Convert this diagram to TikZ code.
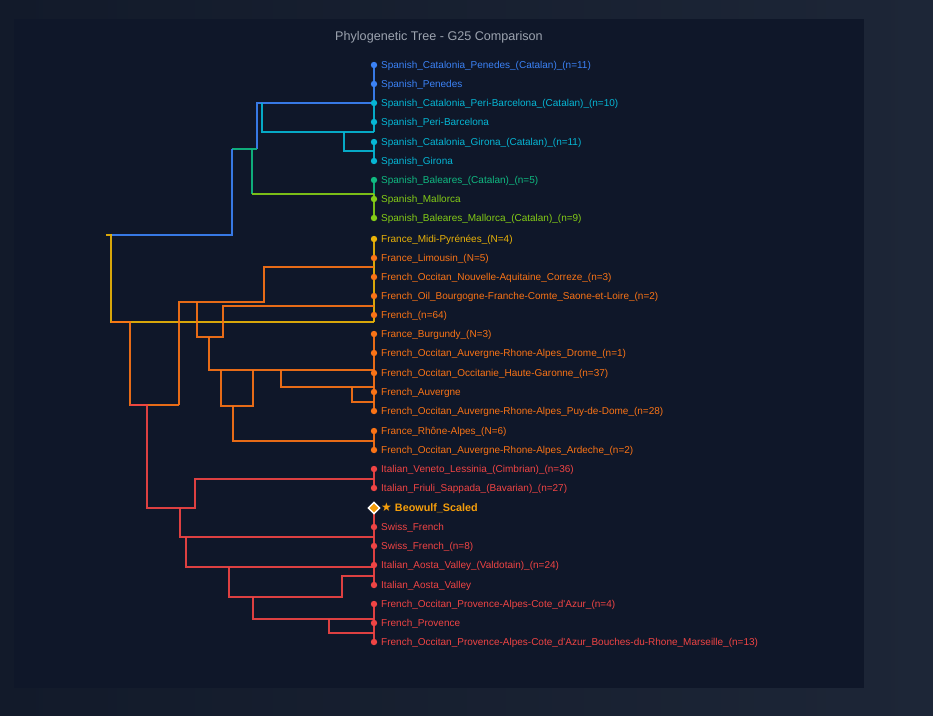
\documentclass[tikz,border=0pt]{standalone}
\usepackage{fontspec}
\setmainfont{Liberation Sans}[Ligatures=TeXOff]
\newfontfamily\djv{DejaVu Sans}
\usetikzlibrary{shapes.geometric}
\definecolor{cblue}{HTML}{3B82F6}
\definecolor{ccyan}{HTML}{06B6D4}
\definecolor{cteal}{HTML}{10B981}
\definecolor{clime}{HTML}{84CC16}
\definecolor{cyel}{HTML}{EAB308}
\definecolor{corg}{HTML}{F97316}
\definecolor{cred}{HTML}{EF4444}
\definecolor{camber}{HTML}{F59E0B}
\definecolor{panelbg}{HTML}{0F1729}
\definecolor{bgleft}{HTML}{121A2A}
\definecolor{bgright}{HTML}{1D2637}
\definecolor{titlegray}{HTML}{9CA3AF}
\begin{document}
\begin{tikzpicture}[x=1pt,y=-1pt,
  br/.style={line width=1.8pt, opacity=0.92},
  dot/.style={circle, inner sep=0pt, minimum size=6.4pt, fill=#1},
  lab/.style={anchor=west, inner sep=0pt, text=#1, font=\fontsize{10}{12}\selectfont, text height=7.2pt, text depth=0pt}]
\fill[left color=bgleft, right color=bgright] (0,0) rectangle (933,715);
\useasboundingbox (0,0) rectangle (933,715);
\fill[panelbg] (14,19) rectangle (864,688);
\node[text=titlegray, font=\fontsize{12.6}{15}\selectfont, inner sep=0pt] (title) at (439,37) {Phylogenetic Tree - G25 Comparison};

% leaf column segments
\draw[br,cblue] (374,65) -- (374,103);
\draw[br,ccyan] (374,103) -- (374,132);
\draw[br,ccyan] (374,142) -- (374,161);
\draw[br,cteal] (374,180) -- (374,194);
\draw[br,clime] (374,194) -- (374,218);
\draw[br,cyel] (374,239) -- (374,322);
\draw[br,corg] (374,334) -- (374,411);
\draw[br,corg] (374,431) -- (374,450);
\draw[br,cred] (374,469) -- (374,488);
\draw[br,cred] (374,508) -- (374,585);
\draw[br,cred] (374,604) -- (374,642);

% Spanish clade
\draw[br,cblue] (374,103) -- (257,103) -- (257,149);
\draw[br,ccyan] (262,103) -- (262,132) -- (374,132);
\draw[br,ccyan] (344,132) -- (344,151) -- (374,151);
\draw[br,cteal] (257,149) -- (232,149);
\draw[br,cteal] (252,149) -- (252,194);
\draw[br,clime] (252,194) -- (374,194);
\draw[br,cblue] (232,149) -- (232,235) -- (111,235);
\draw[br,cyel] (106,235) -- (111,235) -- (111,322) -- (374,322);

% French clade
\draw[br,corg] (111,322) -- (130,322) -- (130,405) -- (179,405);
\draw[br,corg] (179,405) -- (179,302) -- (264,302) -- (264,267) -- (374,267);
\draw[br,corg] (197,302) -- (197,337) -- (223,337) -- (223,306) -- (374,306);
\draw[br,corg] (209,337) -- (209,370) -- (374,370);
\draw[br,corg] (221,370) -- (221,406) -- (253,406) -- (253,370);
\draw[br,corg] (233,406) -- (233,441) -- (374,441);
\draw[br,corg] (281,370) -- (281,387) -- (374,387);
\draw[br,corg] (352,387) -- (352,402) -- (374,402);

% Italian / Swiss / Provence clade
\draw[br,cred] (130,405) -- (147,405) -- (147,508) -- (195,508) -- (195,479) -- (374,479);
\draw[br,cred] (180,508) -- (180,537) -- (374,537);
\draw[br,cred] (186,537) -- (186,567) -- (374,567);
\draw[br,cred] (229,567) -- (229,597) -- (342,597) -- (342,576) -- (374,576);
\draw[br,cred] (253,597) -- (253,619) -- (374,619);
\draw[br,cred] (329,619) -- (329,633) -- (374,633);

% leaves
\node[dot=cblue] (l1) at (374,65) {};
\node[lab=cblue] (t1) at (381,65) {Spanish\_Catalonia\_Penedes\_(Catalan)\_(n=11)};
\node[dot=cblue] (l2) at (374,84) {};
\node[lab=cblue] (t2) at (381,84) {Spanish\_Penedes};
\node[dot=ccyan] (l3) at (374,103) {};
\node[lab=ccyan] (t3) at (381,103) {Spanish\_Catalonia\_Peri-Barcelona\_(Catalan)\_(n=10)};
\node[dot=ccyan] (l4) at (374,122) {};
\node[lab=ccyan] (t4) at (381,122) {Spanish\_Peri-Barcelona};
\node[dot=ccyan] (l5) at (374,142) {};
\node[lab=ccyan] (t5) at (381,142) {Spanish\_Catalonia\_Girona\_(Catalan)\_(n=11)};
\node[dot=ccyan] (l6) at (374,161) {};
\node[lab=ccyan] (t6) at (381,161) {Spanish\_Girona};
\node[dot=cteal] (l7) at (374,180) {};
\node[lab=cteal] (t7) at (381,180) {Spanish\_Baleares\_(Catalan)\_(n=5)};
\node[dot=clime] (l8) at (374,199) {};
\node[lab=clime] (t8) at (381,199) {Spanish\_Mallorca};
\node[dot=clime] (l9) at (374,218) {};
\node[lab=clime] (t9) at (381,218) {Spanish\_Baleares\_Mallorca\_(Catalan)\_(n=9)};
\node[dot=cyel] (l10) at (374,239) {};
\node[lab=cyel] (t10) at (381,239) {France\_Midi-Pyrénées\_(N=4)};
\node[dot=corg] (l11) at (374,258) {};
\node[lab=corg] (t11) at (381,258) {France\_Limousin\_(N=5)};
\node[dot=corg] (l12) at (374,277) {};
\node[lab=corg] (t12) at (381,277) {French\_Occitan\_Nouvelle-Aquitaine\_Correze\_(n=3)};
\node[dot=corg] (l13) at (374,296) {};
\node[lab=corg] (t13) at (381,296) {French\_Oil\_Bourgogne-Franche-Comte\_Saone-et-Loire\_(n=2)};
\node[dot=corg] (l14) at (374,315) {};
\node[lab=corg] (t14) at (381,315) {French\_(n=64)};
\node[dot=corg] (l15) at (374,334) {};
\node[lab=corg] (t15) at (381,334) {France\_Burgundy\_(N=3)};
\node[dot=corg] (l16) at (374,353) {};
\node[lab=corg] (t16) at (381,353) {French\_Occitan\_Auvergne-Rhone-Alpes\_Drome\_(n=1)};
\node[dot=corg] (l17) at (374,373) {};
\node[lab=corg] (t17) at (381,373) {French\_Occitan\_Occitanie\_Haute-Garonne\_(n=37)};
\node[dot=corg] (l18) at (374,392) {};
\node[lab=corg] (t18) at (381,392) {French\_Auvergne};
\node[dot=corg] (l19) at (374,411) {};
\node[lab=corg] (t19) at (381,411) {French\_Occitan\_Auvergne-Rhone-Alpes\_Puy-de-Dome\_(n=28)};
\node[dot=corg] (l20) at (374,431) {};
\node[lab=corg] (t20) at (381,431) {France\_Rhône-Alpes\_(N=6)};
\node[dot=corg] (l21) at (374,450) {};
\node[lab=corg] (t21) at (381,450) {French\_Occitan\_Auvergne-Rhone-Alpes\_Ardeche\_(n=2)};
\node[dot=cred] (l22) at (374,469) {};
\node[lab=cred] (t22) at (381,469) {Italian\_Veneto\_Lessinia\_(Cimbrian)\_(n=36)};
\node[dot=cred] (l23) at (374,488) {};
\node[lab=cred] (t23) at (381,488) {Italian\_Friuli\_Sappada\_(Bavarian)\_(n=27)};
\node[diamond, draw=white, line width=1.4pt, fill=camber, inner sep=0pt, minimum size=12pt] (l24) at (374,508) {};
\node[lab=camber, font=\fontsize{10.8}{13}\selectfont\bfseries, text height=7.8pt] (t24) at (381,508) {{\djv\fontsize{12}{13}\selectfont ★} Beowulf\_Scaled};
\node[dot=cred] (l25) at (374,527) {};
\node[lab=cred] (t25) at (381,527) {Swiss\_French};
\node[dot=cred] (l26) at (374,546) {};
\node[lab=cred] (t26) at (381,546) {Swiss\_French\_(n=8)};
\node[dot=cred] (l27) at (374,565) {};
\node[lab=cred] (t27) at (381,565) {Italian\_Aosta\_Valley\_(Valdotain)\_(n=24)};
\node[dot=cred] (l28) at (374,585) {};
\node[lab=cred] (t28) at (381,585) {Italian\_Aosta\_Valley};
\node[dot=cred] (l29) at (374,604) {};
\node[lab=cred] (t29) at (381,604) {French\_Occitan\_Provence-Alpes-Cote\_d'Azur\_(n=4)};
\node[dot=cred] (l30) at (374,623) {};
\node[lab=cred] (t30) at (381,623) {French\_Provence};
\node[dot=cred] (l31) at (374,642) {};
\node[lab=cred] (t31) at (381,642) {French\_Occitan\_Provence-Alpes-Cote\_d'Azur\_Bouches-du-Rhone\_Marseille\_(n=13)};
\end{tikzpicture}
\end{document}
